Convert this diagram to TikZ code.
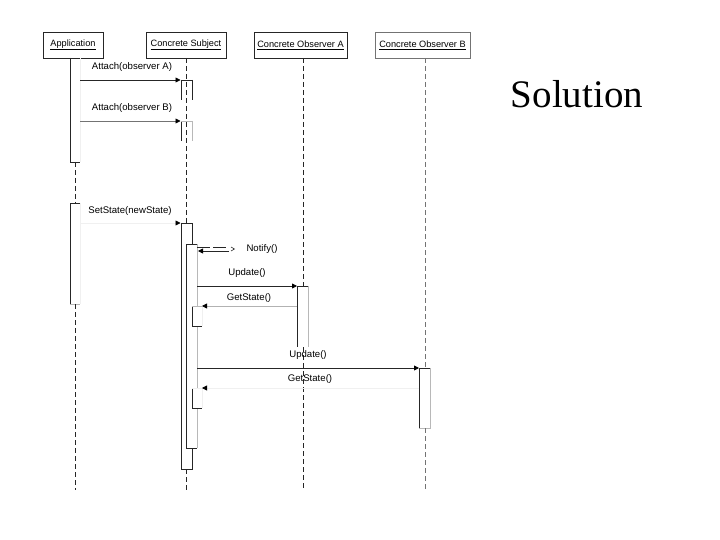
\documentclass[tikz,border=0pt]{standalone}
\usepackage{fontspec}
\setmainfont{Liberation Serif}
\setsansfont{Liberation Sans}
\usetikzlibrary{arrows.meta}
\begin{document}
\begin{tikzpicture}[x=1pt,y=-1pt,
  hdr/.style={draw=black!85,line width=0.9pt,minimum height=26pt,inner sep=0pt,font=\fontsize{9.2}{10}\selectfont\sffamily},
  lbl/.style={font=\fontsize{9.6}{10}\selectfont\sffamily,inner sep=0pt},
  dk/.style={draw=black!85,line width=0.8pt},
  lt/.style={draw=black!28,line width=0.8pt},
  vlt/.style={draw=black!6,line width=0.8pt},
  life/.style={draw=black!85,line width=0.8pt,dash pattern=on 5pt off 3pt},
  msg/.style={line width=0.8pt,-{Triangle[length=5pt,width=5pt,color=black,fill=black]}},
  bar/.style={fill=white,draw=none}]
\useasboundingbox (0,0) rectangle (720,540);
% headers
\node[hdr,minimum width=60pt] (app) at (73,45) {\underline{Application}};
\node[hdr,minimum width=80pt] (subj) at (186,45) {\underline{Concrete Subject}};
\node[hdr,minimum width=93pt] (obsA) at (300.5,45) {\underline{Concrete Observer A}};
\node[hdr,minimum width=95pt,draw=black!55] (obsB) at (422.5,45) {\underline{Concrete Observer B}};
\node[font=\fontsize{39}{44}\selectfont,anchor=base,inner sep=0pt] (sol) at (577,108) {Solution};
% Application lifeline
\draw[dk] (70,58) -- (70,162) -- (80,162);
\draw[vlt] (80,58) -- (80,162);
\draw[life] (75,162) -- (75,203);
\draw[dk] (80,203) -- (70,203) -- (70,304);
\draw[lt] (70,304) -- (80,304);
\draw[vlt] (80,304) -- (80,203);
\draw[life] (75,304) -- (75,490);
% Subject lifeline
\draw[life] (186,58) -- (186,223);
\draw[dk] (181.5,80) -- (181.5,100); \draw[dk] (192,80) -- (192,100);
\draw[dk] (181.5,121) -- (181.5,141); \draw[lt] (192,121) -- (192,141);
\fill[white] (181.5,223) rectangle (192,469);
\draw[dk] (181.5,223) -- (181.5,469) -- (192,469) -- (192,223);
\fill[white] (186.5,244) rectangle (197,448);
\draw[dk] (197,244) -- (186.5,244) -- (186.5,448) -- (197,448);
\draw[lt] (197,244) -- (197,448);
\draw[life] (186,469) -- (186,490);
% small nested bars
\fill[white] (192,306) rectangle (202,326);
\draw[dk] (192,306) -- (192,326) -- (202,326);
\draw[vlt] (202,326) -- (202,306);
\fill[white] (192,388) rectangle (202,408);
\draw[dk] (192,388) -- (192,408) -- (202,408);
\draw[vlt] (202,408) -- (202,388);
% Observer A lifeline
\draw[life] (303,58) -- (303,286);
\fill[white] (297,286) rectangle (308,347);
\draw[dk] (297,286) -- (297,347);
\draw[lt] (308,286) -- (308,347);
\draw[life] (303,347) -- (303,490);
% Observer B lifeline
\draw[life,draw=black!55] (425,58) -- (425,368);
\draw[dk] (419,368) -- (419,428);
\draw[lt] (430,368) -- (430,428) -- (419,428);
\draw[life,draw=black!55] (425,428) -- (425,490);
% message coordinates
\coordinate (a1s) at (80,80);   \coordinate (a1e) at (180.5,80);
\coordinate (a2s) at (80,121);  \coordinate (a2e) at (180.5,121);
\coordinate (sss) at (80,223);  \coordinate (sse) at (180.5,223);
\coordinate (n1s) at (197,247); \coordinate (n1e) at (229,247);
\coordinate (n2s) at (229,251); \coordinate (n2e) at (198,251);
\coordinate (uAs) at (197,286); \coordinate (uAe) at (297,286);
\coordinate (gAs) at (297,306); \coordinate (gAe) at (202,306);
\coordinate (uBs) at (197,368); \coordinate (uBe) at (419,368);
\coordinate (gBs) at (419,388); \coordinate (gBe) at (202,388);
% messages
\draw[msg,draw=black!85] (a1s) -- (a1e);
\draw[dk] (a1e) -- (192,80);
\draw[msg,draw=black!55] (a2s) -- (a2e);
\draw[lt] (a2e) -- (192,121);
\draw[msg,draw=black!6] (sss) -- (sse);
\draw[dk] (sse) -- (192,223);
\draw[dk,dash pattern=on 13pt off 3pt] (n1s) -- (n1e);
\draw[dk,line width=0.6pt] (231,247) -- (234.5,249) -- (231,251);
\draw[msg,draw=black!85] (n2s) -- (n2e);
\draw[msg,draw=black!85] (uAs) -- (uAe);
\draw[dk] (uAe) -- (308,286);
\draw[msg,draw=black!30] (gAs) -- (gAe);
\draw[lt] (gAe) -- (192,306);
\draw[msg,draw=black!85] (uBs) -- (uBe);
\draw[dk] (uBe) -- (430,368);
\draw[msg,draw=black!6] (gBs) -- (gBe);
\draw[vlt] (gBe) -- (192,388);
% labels
\node[lbl] (l1) at (132,67) {Attach(observer A)};
\node[lbl] (l2) at (132,108) {Attach(observer B)};
\node[lbl] (l3) at (130,211) {SetState(newState)};
\node[lbl] (l4) at (262,249) {Notify()};
\node[lbl] (l5) at (247,273) {Update()};
\node[lbl] (l6) at (249,298) {GetState()};
\node[lbl] (l7) at (308,355) {Update()};
\node[lbl] (l8) at (310,379) {GetState()};
\end{tikzpicture}
\end{document}
